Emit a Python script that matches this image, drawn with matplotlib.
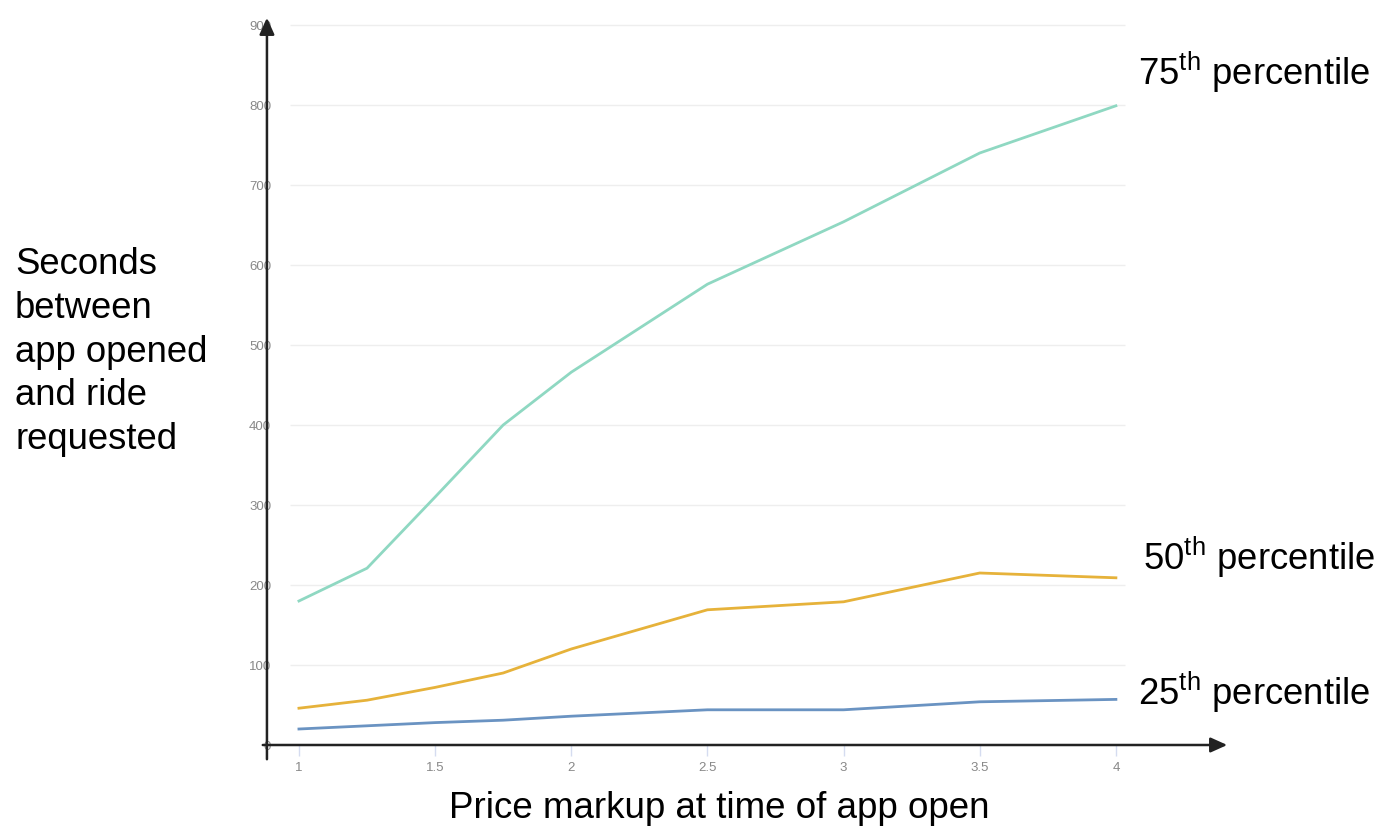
import matplotlib
matplotlib.use("Agg")
import matplotlib.pyplot as plt

# Data
markup = [1, 1.25, 1.5, 1.75, 2, 2.5, 3, 3.5, 4]
p75 = [180, 221, 310, 400, 466, 576, 654, 740, 799]
p50 = [46, 56, 72, 90, 120, 169, 179, 215, 209]
p25 = [20, 24, 28, 31, 36, 44, 44, 54, 57]
x_ticks = [1, 1.5, 2, 2.5, 3, 3.5, 4]
x_tick_labels = ["1", "1.5", "2", "2.5", "3", "3.5", "4"]
y_ticks = [0, 100, 200, 300, 400, 500, 600, 700, 800, 900]

plt.rcParams["font.family"] = ["Liberation Sans", "DejaVu Sans"]
plt.rcParams["mathtext.fontset"] = "custom"
plt.rcParams["mathtext.rm"] = "Liberation Sans"

W, H = 1381, 832
fig = plt.figure(figsize=(W / 100, H / 100), dpi=100)
# axes placed in pixels: left 260, right 1230, top 15, bottom 762
ax = fig.add_axes([260 / W, (H - 762) / H, (1230 - 260) / W, (762 - 15) / H])
ax.set_xlim(0.857, 4.419)
ax.set_ylim(-21.25, 912.5)
for s in ax.spines.values():
    s.set_visible(False)

# light grid
ax.hlines(y_ticks[1:], 0.967, 4.033, color="#eeeeee", lw=1, zorder=0)

ax.plot(markup, p75, color="#8fd8c2", lw=2)
ax.plot(markup, p50, color="#e6b23a", lw=2)
ax.plot(markup, p25, color="#6a93c2", lw=2)

# axis lines with arrows
ax.annotate("", xy=(0.8825, 912.5), xytext=(0.8825, -21.25),
            arrowprops=dict(arrowstyle="-|>,head_width=0.45,head_length=1.0",
                            color="#222222", lw=1.8), annotation_clip=False)
ax.annotate("", xy=(4.419, 0), xytext=(0.857, 0),
            arrowprops=dict(arrowstyle="-|>,head_width=0.45,head_length=1.0",
                            color="#222222", lw=1.8), annotation_clip=False)
ax.vlines(x_ticks, -14, 0, color="#d5dcf0", lw=1)

ax.set_xticks(x_ticks)
ax.set_xticklabels(x_tick_labels)
ax.set_yticks(y_ticks)
ax.tick_params(axis="both", length=0, labelsize=9.5, labelcolor="#888888")
ax.tick_params(axis="y", pad=-8)
ax.tick_params(axis="x", pad=0)

# series labels
lab = dict(fontsize=26.3, color="black", va="center", ha="left")
ax.text(4.081, 841, r"75$^{\mathrm{th}}$ percentile", **lab)
ax.text(4.099, 235, r"50$^{\mathrm{th}}$ percentile", **lab)
ax.text(4.081, 66, r"25$^{\mathrm{th}}$ percentile", **lab)

fig.text(15 / W, 1 - 352 / H, "Seconds\nbetween\napp opened\nand ride\nrequested",
         fontsize=26.3, ha="left", va="center", linespacing=1.32)
fig.text(719 / W, 1 - 808 / H, "Price markup at time of app open",
         fontsize=26.5, ha="center", va="center")

fig.savefig("out.png", dpi=100)
